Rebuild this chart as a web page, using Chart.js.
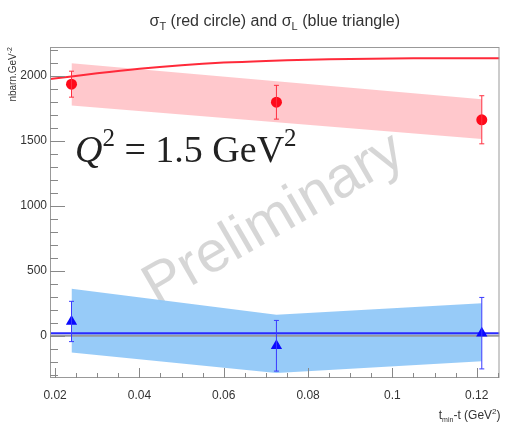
<!DOCTYPE html>
<html>
<head>
<meta charset="utf-8">
<script src="https://cdn.jsdelivr.net/npm/chart.js@4.4.0/dist/chart.umd.min.js"></script>
<style>
html, body { margin: 0; padding: 0; background: #fff; }
</style>
</head>
<body>
<canvas id="chart" width="506" height="423"></canvas>
<script>
// axis ticks
const xTicks = [0.02, 0.04, 0.06, 0.08, 0.1, 0.12];
const yTicks = [0, 500, 1000, 1500, 2000];

// measured points (t_min - t)
const tValues = [0.0239, 0.0725, 0.1212];

// sigma_T (red circles)
const sigmaT = [1936, 1797, 1662];
const sigmaTErr = [100, 130, 185];
const sigmaTBandLow = [1772, 1643, 1515];
const sigmaTBandHigh = [2097, 1958, 1820];

// sigma_L (blue triangles)
const sigmaL = [110, -77, 20];
const sigmaLErr = [155, 195, 275];
const sigmaLBandLow = [-128, -287, -197];
const sigmaLBandHigh = [362, 162, 251];

// model curves
const modelX = [0.0188, 0.03, 0.04, 0.05, 0.06, 0.07, 0.08, 0.09, 0.1, 0.11, 0.12, 0.1254];
const modelT = [1975, 2020, 2055, 2082, 2102, 2115, 2124, 2130, 2134, 2136, 2136, 2135];
const modelL = [20, 20, 20, 20, 20, 20, 20, 20, 20, 20, 20, 20];

const xMin = 0.0188, xMax = 0.1254;
const yMin = -325, yMax = 2222;

const pts = (xs, ys) => xs.map((v, i) => ({ x: v, y: ys[i] }));

// petit texte avec indices / exposants
function drawRich(ctx, parts, x, y, align) {
    let w = 0;
    parts.forEach(p => { ctx.font = p.font; w += ctx.measureText(p.t).width; });
    let cx = align === 'center' ? x - w / 2 : align === 'right' ? x - w : x;
    parts.forEach(p => {
        ctx.font = p.font;
        ctx.fillStyle = p.color || '#222';
        ctx.textBaseline = 'alphabetic';
        ctx.textAlign = 'left';
        ctx.fillText(p.t, cx, y + (p.dy || 0));
        cx += ctx.measureText(p.t).width;
    });
}

const decorations = {
    id: 'decorations',
    beforeDatasetsDraw(chart) {
        const { ctx } = chart;
        // filigrane
        ctx.save();
        ctx.translate(274, 220);
        ctx.rotate(-30 * Math.PI / 180);
        ctx.font = "58px 'Liberation Sans', Arial, sans-serif";
        ctx.fillStyle = 'rgba(0,0,0,0.16)';
        ctx.textAlign = 'center';
        ctx.textBaseline = 'middle';
        ctx.fillText('Preliminary', 0, 0);
        ctx.restore();
    },
    afterDatasetsDraw(chart) {
        const { ctx, chartArea: a, scales: { x, y } } = chart;
        ctx.save();
        // barres d'erreur
        chart.data.datasets.forEach(ds => {
            if (!ds.errors) return;
            ctx.strokeStyle = ds.errColor;
            ctx.lineWidth = 1;
            ds.data.forEach((p, j) => {
                const px = x.getPixelForValue(p.x);
                const t = y.getPixelForValue(p.y + ds.errors[j]);
                const b = y.getPixelForValue(p.y - ds.errors[j]);
                ctx.beginPath();
                ctx.moveTo(px, t); ctx.lineTo(px, b);
                ctx.moveTo(px - 2.5, t); ctx.lineTo(px + 2.5, t);
                ctx.moveTo(px - 2.5, b); ctx.lineTo(px + 2.5, b);
                ctx.stroke();
            });
        });

        // cadre
        ctx.strokeStyle = '#999';
        ctx.lineWidth = 1;
        ctx.strokeRect(a.left + 0.5, a.top + 0.5, a.right - a.left - 1, a.bottom - a.top - 1);

        // graduations vers l'intérieur
        ctx.strokeStyle = '#888';
        ctx.beginPath();
        for (let v = -300; v <= yMax; v += 100) {
            const py = Math.round(y.getPixelForValue(v)) + 0.5;
            const len = v % 500 === 0 ? 15 : 8;
            ctx.moveTo(a.left, py); ctx.lineTo(a.left + len, py);
        }
        for (let k = 0; k <= 21; k++) {
            const v = 0.02 + k * 0.005;
            if (v > xMax) break;
            const px = Math.round(x.getPixelForValue(v)) + 0.5;
            const len = k % 4 === 0 ? 10 : 5;
            ctx.moveTo(px, a.bottom); ctx.lineTo(px, a.bottom - len);
        }
        ctx.stroke();

        // Q^2 = 1.5 GeV^2
        const serif = "'Liberation Serif', 'Times New Roman', serif";
        drawRich(ctx, [
            { t: 'Q', font: 'italic 38px ' + serif },
            { t: '2', font: '25px ' + serif, dy: -16 },
            { t: ' = 1.5 GeV', font: '38px ' + serif },
            { t: '2', font: '25px ' + serif, dy: -16 }
        ], 75, 162, 'left');

        // titre
        const sans = "'Liberation Sans', Arial, sans-serif";
        drawRich(ctx, [
            { t: 'σ', font: '16px ' + sans, color: '#333' },
            { t: 'T', font: '11px ' + sans, dy: 4, color: '#333' },
            { t: ' (red circle) and ', font: '16px ' + sans, color: '#333' },
            { t: 'σ', font: '16px ' + sans, color: '#333' },
            { t: 'L', font: '11px ' + sans, dy: 4, color: '#333' },
            { t: ' (blue triangle)', font: '16px ' + sans, color: '#333' }
        ], (a.left + a.right) / 2, 26, 'center');

        // titre axe x
        drawRich(ctx, [
            { t: 't', font: '12px ' + sans, color: '#333' },
            { t: 'min', font: '7px ' + sans, dy: 3, color: '#333' },
            { t: '-t (GeV', font: '12px ' + sans, color: '#333' },
            { t: '2', font: '8px ' + sans, dy: -5, color: '#333' },
            { t: ')', font: '12px ' + sans, color: '#333' }
        ], a.right + 1, 419, 'right');

        // titre axe y
        ctx.translate(16, a.top);
        ctx.rotate(-Math.PI / 2);
        drawRich(ctx, [
            { t: 'nbarn.GeV', font: '10px ' + sans, color: '#333' },
            { t: '-2', font: '7px ' + sans, dy: -4, color: '#333' }
        ], 0, 0, 'right');
        ctx.restore();
    }
};

const ctx = document.getElementById('chart').getContext('2d');

new Chart(ctx, {
    type: 'scatter',
    data: {
        datasets: [
            {
                data: pts(tValues, sigmaTBandHigh), showLine: true, pointRadius: 0,
                borderWidth: 0, borderColor: 'rgba(0,0,0,0)', backgroundColor: 'rgba(255,190,195,0.85)',
                fill: '+1', order: 10
            },
            {
                data: pts(tValues, sigmaTBandLow), showLine: true, pointRadius: 0,
                borderWidth: 0, borderColor: 'rgba(0,0,0,0)', fill: false, order: 10
            },
            {
                data: pts(tValues, sigmaLBandHigh), showLine: true, pointRadius: 0,
                borderWidth: 0, borderColor: 'rgba(0,0,0,0)', backgroundColor: 'rgba(145,200,248,0.95)',
                fill: '+1', order: 10
            },
            {
                data: pts(tValues, sigmaLBandLow), showLine: true, pointRadius: 0,
                borderWidth: 0, borderColor: 'rgba(0,0,0,0)', fill: false, order: 10
            },
            {
                data: [{ x: xMin, y: 0 }, { x: xMax, y: 0 }], showLine: true, pointRadius: 0,
                borderWidth: 2, borderColor: '#9a9a9a', fill: false, order: 6
            },
            {
                data: pts(modelX, modelL), showLine: true, pointRadius: 0,
                borderWidth: 2, borderColor: '#2a2aff', fill: false, order: 5
            },
            {
                data: pts(modelX, modelT), showLine: true, pointRadius: 0, tension: 0.3,
                borderWidth: 2, borderColor: '#ff2a3a', fill: false, order: 5
            },
            {
                data: pts(tValues, sigmaT), errors: sigmaTErr, errColor: '#ff3040',
                pointStyle: 'circle', pointRadius: 5.5, backgroundColor: '#ff0a1a',
                borderColor: '#ff0a1a', borderWidth: 0, order: 1
            },
            {
                data: pts(tValues, sigmaL), errors: sigmaLErr, errColor: '#3a3aff',
                pointStyle: 'triangle', pointRadius: 6.5, backgroundColor: '#0a0aff',
                borderColor: '#0a0aff', borderWidth: 0, order: 1
            }
        ]
    },
    options: {
        responsive: false,
        animation: false,
        layout: { padding: { top: 47, right: 3, left: 0, bottom: 0 } },
        plugins: {
            legend: { display: false },
            tooltip: { enabled: false }
        },
        scales: {
            x: {
                type: 'linear', min: xMin, max: xMax,
                afterBuildTicks: s => { s.ticks = xTicks.map(v => ({ value: v })); },
                afterFit: s => { s.height = 45; },
                grid: { display: false, drawTicks: false },
                border: { display: false },
                ticks: {
                    padding: 10, maxRotation: 0, autoSkip: false,
                    color: '#333', font: { size: 12, family: "'Liberation Sans', Arial, sans-serif" },
                    callback: v => String(v)
                }
            },
            y: {
                type: 'linear', min: yMin, max: yMax,
                afterBuildTicks: s => { s.ticks = yTicks.map(v => ({ value: v })); },
                afterFit: s => { s.width = 50; },
                grid: { display: false, drawTicks: false },
                border: { display: false },
                ticks: {
                    padding: 3, autoSkip: false,
                    color: '#333', font: { size: 12, family: "'Liberation Sans', Arial, sans-serif" },
                    callback: v => String(v)
                }
            }
        }
    },
    plugins: [decorations]
});
</script>
</body>
</html>
